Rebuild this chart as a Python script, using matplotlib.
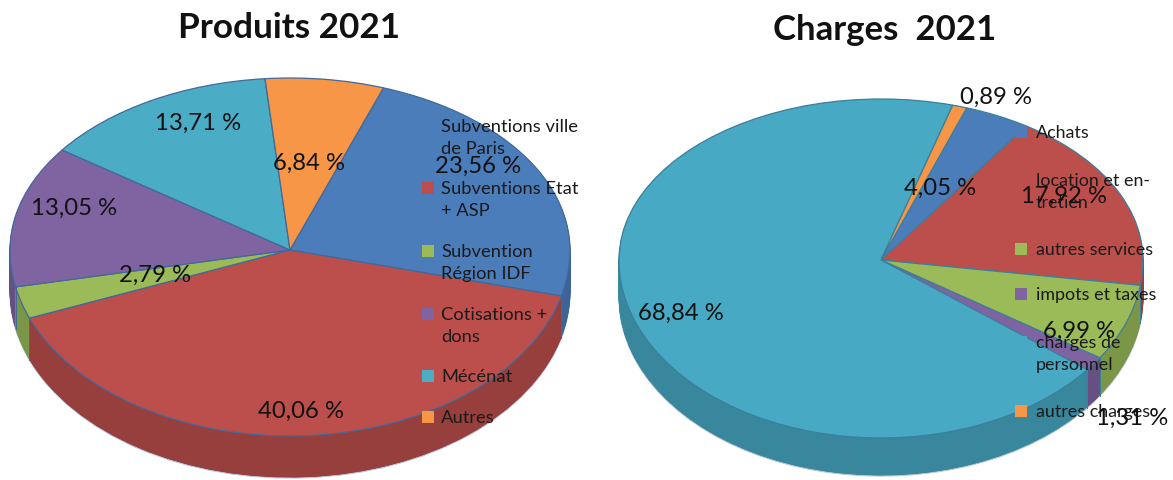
"""
Produits / Charges 2021, two tilted pies with extruded sides.
"""
import numpy as np
import matplotlib
matplotlib.use("Agg")
import matplotlib.pyplot as plt
from matplotlib.colors import to_rgb
from matplotlib.patches import Rectangle

W, H = 1173, 481

plt.rcParams["font.family"] = ["Lato", "DejaVu Sans"]

produits_labels = ["Subventions ville\nde Paris", "Subventions Etat\n+ ASP", "Subvention\nRégion IDF",
                   "Cotisations +\ndons", "Mécénat", "Autres"]
produits_values = [23.56, 40.06, 2.79, 13.05, 13.71, 6.84]
produits_colors = ["#4B7DBB", "#BC4F4C", "#9BBB59", "#8064A2", "#4BACC6", "#F79646"]

charges_labels = ["Achats", "location et en-\ntretien", "autres services", "impots et taxes",
                  "charges de\npersonnel", "autres charges"]
charges_values = [4.05, 17.92, 6.99, 1.31, 68.84, 0.89]
charges_colors = ["#4B7DBB", "#BC4F4C", "#9BBB59", "#8064A2", "#47A9C3", "#F79646"]

# pixel centres of the percent labels
produits_pct_xy = [(478, 166), (301, 411), (155, 275), (74, 208), (198, 123), (309, 163)]
charges_pct_xy = [(940, 188), (1064, 196), (1079, 331), (1132, 418), (681, 313), (996, 97)]

# legend rows: y of the square
produits_leg_y = [127, 189, 252, 315, 377, 418]
charges_leg_y = [133, 181, 250, 295, 343, 412]


def px(x, y):
    return x / W, 1 - y / H


def darker(color, k=0.8):
    return tuple(c * k for c in to_rgb(color))


def tilted_pie(fig, values, colors, cx, cy, rx, ry_top, ry_bot, depth, start, edge):
    margin = 1.05
    d = depth / ry_bot
    ylo, yhi = -(margin + d), margin
    top_px = cy - yhi * ry_top
    bot_px = cy - ylo * ry_bot
    left = (cx - margin * rx) / W
    ax = fig.add_axes([left, 1 - bot_px / H, 2 * margin * rx / W, (bot_px - top_px) / H])

    # side: the same pie stacked downwards, one pixel at a time
    side = [darker(c) for c in colors]
    ax.pie(values, colors=side, startangle=start, counterclock=False, center=(0, -d),
           wedgeprops=dict(linewidth=0.9, edgecolor="#b9c6da"))
    for off in np.linspace(d, 0, int(depth) + 1)[1:-1]:
        layer, _ = ax.pie(values, colors=side, startangle=start, counterclock=False, center=(0, -off))
        for w in layer:
            w.set_edgecolor(w.get_facecolor())
            w.set_linewidth(0.6)
    wedges, _ = ax.pie(values, colors=colors, startangle=start, counterclock=False,
                       wedgeprops=dict(linewidth=0.9, edgecolor=edge))
    # vertical seams on the front of the side
    for w in wedges:
        a = np.deg2rad(w.theta1)
        if np.sin(a) < 0:
            ax.plot([np.cos(a)] * 2, [np.sin(a), np.sin(a) - d], color=edge, lw=0.7, zorder=5)

    def forward(y):
        y = np.asarray(y, dtype=float)
        return np.where(y > 0, y * ry_top, y * ry_bot)

    def inverse(v):
        v = np.asarray(v, dtype=float)
        return np.where(v > 0, v / ry_top, v / ry_bot)

    ax.set_aspect("auto")
    ax.set_yscale("function", functions=(forward, inverse))
    ax.set_xlim(-margin, margin)
    ax.set_ylim(ylo, yhi)
    ax.set_axis_off()
    return ax


def pct_text(fig, values, positions):
    for v, (x, y) in zip(values, positions):
        s = f"{v:.2f}".replace(".", ",") + " %"
        fig.text(*px(x, y), s, ha="center", va="center", fontsize=17.2, color="#111111", zorder=20)


def legend_rows(fig, labels, colors, ys, x_box, x_text, size):
    for lab, col, y in zip(labels, colors, ys):
        fig.add_artist(Rectangle(px(x_box, y + 6), 12 / W, 12 / H, transform=fig.transFigure,
                                 facecolor=col, edgecolor="none", zorder=15))
        n = lab.count("\n")
        fig.text(*px(x_text, y + n * 11), lab, ha="left", va="center", fontsize=size,
                 linespacing=1.42, color="#1a1a1a", zorder=16)


def main():
    fig = plt.figure(figsize=(W / 100, H / 100), dpi=100, facecolor="white")

    tilted_pie(fig, produits_values, produits_colors, 290, 251, 280, 172, 186, 42, 70.5, "#42699c")
    tilted_pie(fig, charges_values, charges_colors, 881, 261, 262, 161, 178, 38, 70.9, "#3c7f9c")

    legend_rows(fig, produits_labels, produits_colors, produits_leg_y, 422, 441, 13.2)
    legend_rows(fig, charges_labels, charges_colors, charges_leg_y, 1015, 1036, 12.9)
    pct_text(fig, produits_values, produits_pct_xy)
    pct_text(fig, charges_values, charges_pct_xy)

    fig.text(*px(289, 28), "Produits 2021", ha="center", va="center", fontsize=25.3, fontweight="bold", color="#111111")
    fig.text(*px(885, 30), "Charges  2021", ha="center", va="center", fontsize=25, fontweight="bold", color="#111111")

    fig.savefig("out.png", dpi=100, facecolor="white")
    plt.close(fig)


if __name__ == "__main__":
    main()
